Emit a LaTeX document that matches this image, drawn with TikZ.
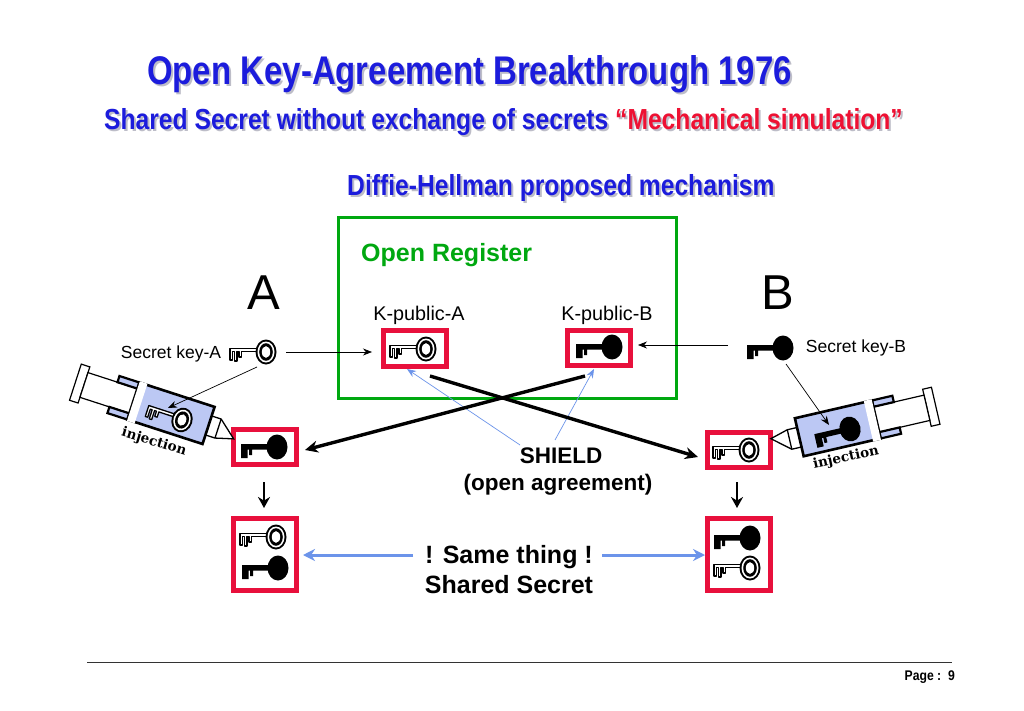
\documentclass[tikz,border=0pt]{standalone}
\usepackage{fontspec}
\setmainfont{Liberation Sans}
\newfontfamily\narrowf[FakeStretch=0.87]{Liberation Sans}
\newfontfamily\titlef[FakeStretch=0.824]{Liberation Sans}
\newfontfamily\subf[FakeStretch=0.85]{Liberation Sans}
\newfontfamily\injf{DejaVu Serif}
\usetikzlibrary{arrows.meta}
\definecolor{titleblue}{HTML}{1C1CDC}
\definecolor{titlered}{HTML}{EE1133}
\definecolor{shadowgrey}{HTML}{BDBDC8}
\definecolor{boxred}{HTML}{E8103C}
\definecolor{regreen}{HTML}{00A810}
\definecolor{syrblue}{HTML}{BCC8F4}
\definecolor{linkblue}{HTML}{6C94EA}
\newcommand{\shtext}[2]{{\makebox[0pt][l]{\hspace{2pt}\raisebox{-2pt}{\color{shadowgrey}#2}}\color{#1}#2}}
\tikzset{
 x=1pt,y=-1pt,
 redbox/.style={draw=boxred,line width=5pt,fill=white,inner sep=0pt,minimum width=63pt},
 lbl/.style={inner sep=0pt,text=black},
 thinarrow/.style={draw=black,line width=.7pt,-{Stealth[length=9pt,width=7pt]}},
 thickarrow/.style={draw=black,line width=3.4pt,-{Stealth[length=13pt,width=12pt]}},
 downarrow/.style={draw=black,line width=2.8pt,-{Stealth[length=11pt,width=12pt]}},
 bluethin/.style={draw=linkblue,line width=.7pt,-{Stealth[length=9pt,width=7pt]}},
 bluethick/.style={draw=linkblue,line width=3pt,-{Stealth[length=12pt,width=12pt]}},
 whitekey/.pic={
  \filldraw[draw=black,fill=white,line width=1.3pt,line join=round]
   (-9,-3.5)--(-36,-3.5)--(-36,8)--(-33.5,8)--(-33.5,-.5)--(-31.5,-.5)--(-31.5,9)--(-29,9)--(-29,-.5)--(-27,-.5)--(-27,5)--(-24.5,5)--(-24.5,-.5)--(-9,-.5)--cycle;
  \fill[black] (0,0) ellipse[x radius=10.5,y radius=12.5];
  \fill[white] (0,0) ellipse[x radius=8.5,y radius=10.5];
  \fill[black] (0,0) ellipse[x radius=6.8,y radius=8.8];
  \fill[white] (0,0) ellipse[x radius=4.2,y radius=5.8];
 },
 blackkey/.pic={
  \fill[black] (-36,-3)--(-8,-3)--(-8,2.5)--(-25,2.5)--(-25,8)--(-28,8)--(-28,2.5)--(-29.5,2.5)--(-29.5,11)--(-36,11)--cycle;
  \fill[black] (0,0) ellipse[x radius=10.5,y radius=12.5];
 },
 syringe/.pic={
  \filldraw[draw=black,fill=white,line width=1.2pt] (-90,-19) rectangle (-81,19);
  \filldraw[draw=black,fill=white,line width=1.2pt] (-81,-13) rectangle (-29,13);
  \filldraw[draw=black,fill=syrblue,line width=2.2pt] (-50,-19.5) rectangle (-29,-13);
  \filldraw[draw=black,fill=syrblue,line width=2.2pt] (-50,13) rectangle (-29,19.5);
  \filldraw[draw=black,fill=white,line width=1.3pt] (50,-10)--(60,-10)--(78,#1)--(60,10)--(50,10)--cycle;
  \draw[black,line width=1.3pt] (60,-10)--(60,10);
  \filldraw[draw=black,fill=syrblue,line width=2.6pt] (-29,-19.5) rectangle (50,19.5);
  \fill[white] (-29,-20.8) rectangle (-21,20.8);
 },
}
\begin{document}
\begin{tikzpicture}
\useasboundingbox (0,0) rectangle (1024,711);
\fill[white] (0,0) rectangle (1024,711);

% titles
\node[lbl,font=\titlef\bfseries\fontsize{40}{42}\selectfont,anchor=base west] (title) at (147,85) {\shtext{titleblue}{Open Key-Agreement Breakthrough 1976}};
\node[lbl,font=\subf\bfseries\fontsize{29}{31}\selectfont,anchor=base west] (subtitle) at (104,130) {\shtext{titleblue}{Shared Secret without exchange of secrets }\shtext{titlered}{“Mechanical simulation”}};
\node[lbl,font=\subf\bfseries\fontsize{29}{31}\selectfont,anchor=base west] (mech) at (347,196) {\shtext{titleblue}{Diffie-Hellman proposed mechanism}};

% register
\node[draw=regreen,line width=3.5pt,minimum width=338pt,minimum height=181pt,inner sep=0pt] (register) at (507.5,308) {};
\node[lbl,font=\bfseries\fontsize{25}{27}\selectfont,text=regreen,anchor=base west] (regname) at (361,261) {Open Register};
\node[lbl,font=\fontsize{49}{50}\selectfont,anchor=base] (partyA) at (264,309) {A};
\node[lbl,font=\fontsize{49}{50}\selectfont,anchor=base] (partyB) at (778,309) {B};
\node[lbl,font=\fontsize{19.8}{21}\selectfont,anchor=base] (pubA) at (419,320) {K-public-A};
\node[lbl,font=\fontsize{19.8}{21}\selectfont,anchor=base] (pubB) at (607,320) {K-public-B};
\node[lbl,font=\fontsize{17.5}{19}\selectfont,anchor=base] (secA) at (171,358) {Secret key-A};
\node[lbl,font=\fontsize{17.5}{19}\selectfont,anchor=base] (secB) at (856,352) {Secret key-B};

% red boxes
\node[redbox,minimum height=36pt] (boxPubA) at (415,348.5) {};
\node[redbox,minimum height=35pt] (boxPubB) at (599,347.5) {};
\node[redbox,minimum height=35pt] (boxInA) at (265,447) {};
\node[redbox,minimum height=35pt] (boxInB) at (738.5,450) {};
\node[redbox,minimum height=72pt] (boxSumA) at (265,554.5) {};
\node[redbox,minimum height=72pt] (boxSumB) at (739,554.5) {};

% syringes
\pic at (161,410) [rotate=-18] {syringe=5};
\pic at (848,426) [rotate=13,xscale=-1] {syringe=-5};
\node[lbl,font=\injf\bfseries\fontsize{13.5}{15}\selectfont,rotate=-17] (injA) at (154,442) {injection};
\node[lbl,font=\injf\bfseries\fontsize{13.5}{15}\selectfont,rotate=12] (injB) at (846,458) {injection};

% keys
\pic at (266,352) {whitekey};
\pic at (783,348) {blackkey};
\pic at (426,349) {whitekey};
\pic at (612,347) {blackkey};
\pic at (182,420) [rotate=-18] {whitekey};
\pic at (850,429) [rotate=13] {blackkey};
\pic at (277,447) {blackkey};
\pic at (749,450) {whitekey};
\pic at (276,537) {whitekey};
\pic at (278,568) {blackkey};
\pic at (750,538) {blackkey};
\pic at (750,568) {whitekey};

% text in centre
\node[lbl,font=\bfseries\fontsize{22.5}{27}\selectfont,align=center,anchor=base] (shield) at (561,463) {SHIELD};
\node[lbl,font=\bfseries\fontsize{22.5}{27}\selectfont,anchor=base] (shieldb) at (558,490) {(open agreement)};
\node[lbl,font=\bfseries\fontsize{25}{30}\selectfont,anchor=base] (same) at (509,563) {! Same thing !};
\node[lbl,font=\bfseries\fontsize{25}{30}\selectfont,anchor=base] (shared) at (509,593) {Shared Secret};

% connector ends
\coordinate (kA) at (286,352); \coordinate (kB) at (728,345);
\coordinate (kAs) at (257,367); \coordinate (kBs) at (786,364);
\coordinate (sA) at (168,408); \coordinate (sB) at (829,425);
\coordinate (tA) at (372,352); \coordinate (tB) at (638,345);
\coordinate (xA) at (430,376); \coordinate (xB) at (585,376);
\coordinate (yA) at (698,457); \coordinate (yB) at (305,450);
\coordinate (shL) at (520,445); \coordinate (shR) at (555,440);
\coordinate (shLt) at (407,369); \coordinate (shRt) at (594,369);
\coordinate (dA) at (264,482); \coordinate (dAe) at (264,508);
\coordinate (dB) at (737,482); \coordinate (dBe) at (737,508);
\coordinate (bL) at (413,555); \coordinate (bLe) at (303,555);
\coordinate (bR) at (602,555); \coordinate (bRe) at (705,555);

\draw[thinarrow] (kA)--(tA);
\draw[thinarrow] (kB)--(tB);
\draw[thinarrow] (kAs)--(sA);
\draw[thinarrow] (kBs)--(sB);
\draw[bluethin] (shL)--(shLt);
\draw[bluethin] (shR)--(shRt);
\draw[thickarrow] (xA)--(yA);
\draw[thickarrow] (xB)--(yB);
\draw[downarrow] (dA)--(dAe);
\draw[downarrow] (dB)--(dBe);
\draw[bluethick] (bL)--(bLe);
\draw[bluethick] (bR)--(bRe);

% footer
\coordinate (footL) at (87,662); \coordinate (footR) at (952,662);
\draw[black!80,line width=.8pt] (footL)--(footR);
\node[lbl,font=\narrowf\bfseries\fontsize{14}{16}\selectfont,anchor=base east] (page) at (955,680) {Page :\ \ 9};
\end{tikzpicture}
\end{document}
